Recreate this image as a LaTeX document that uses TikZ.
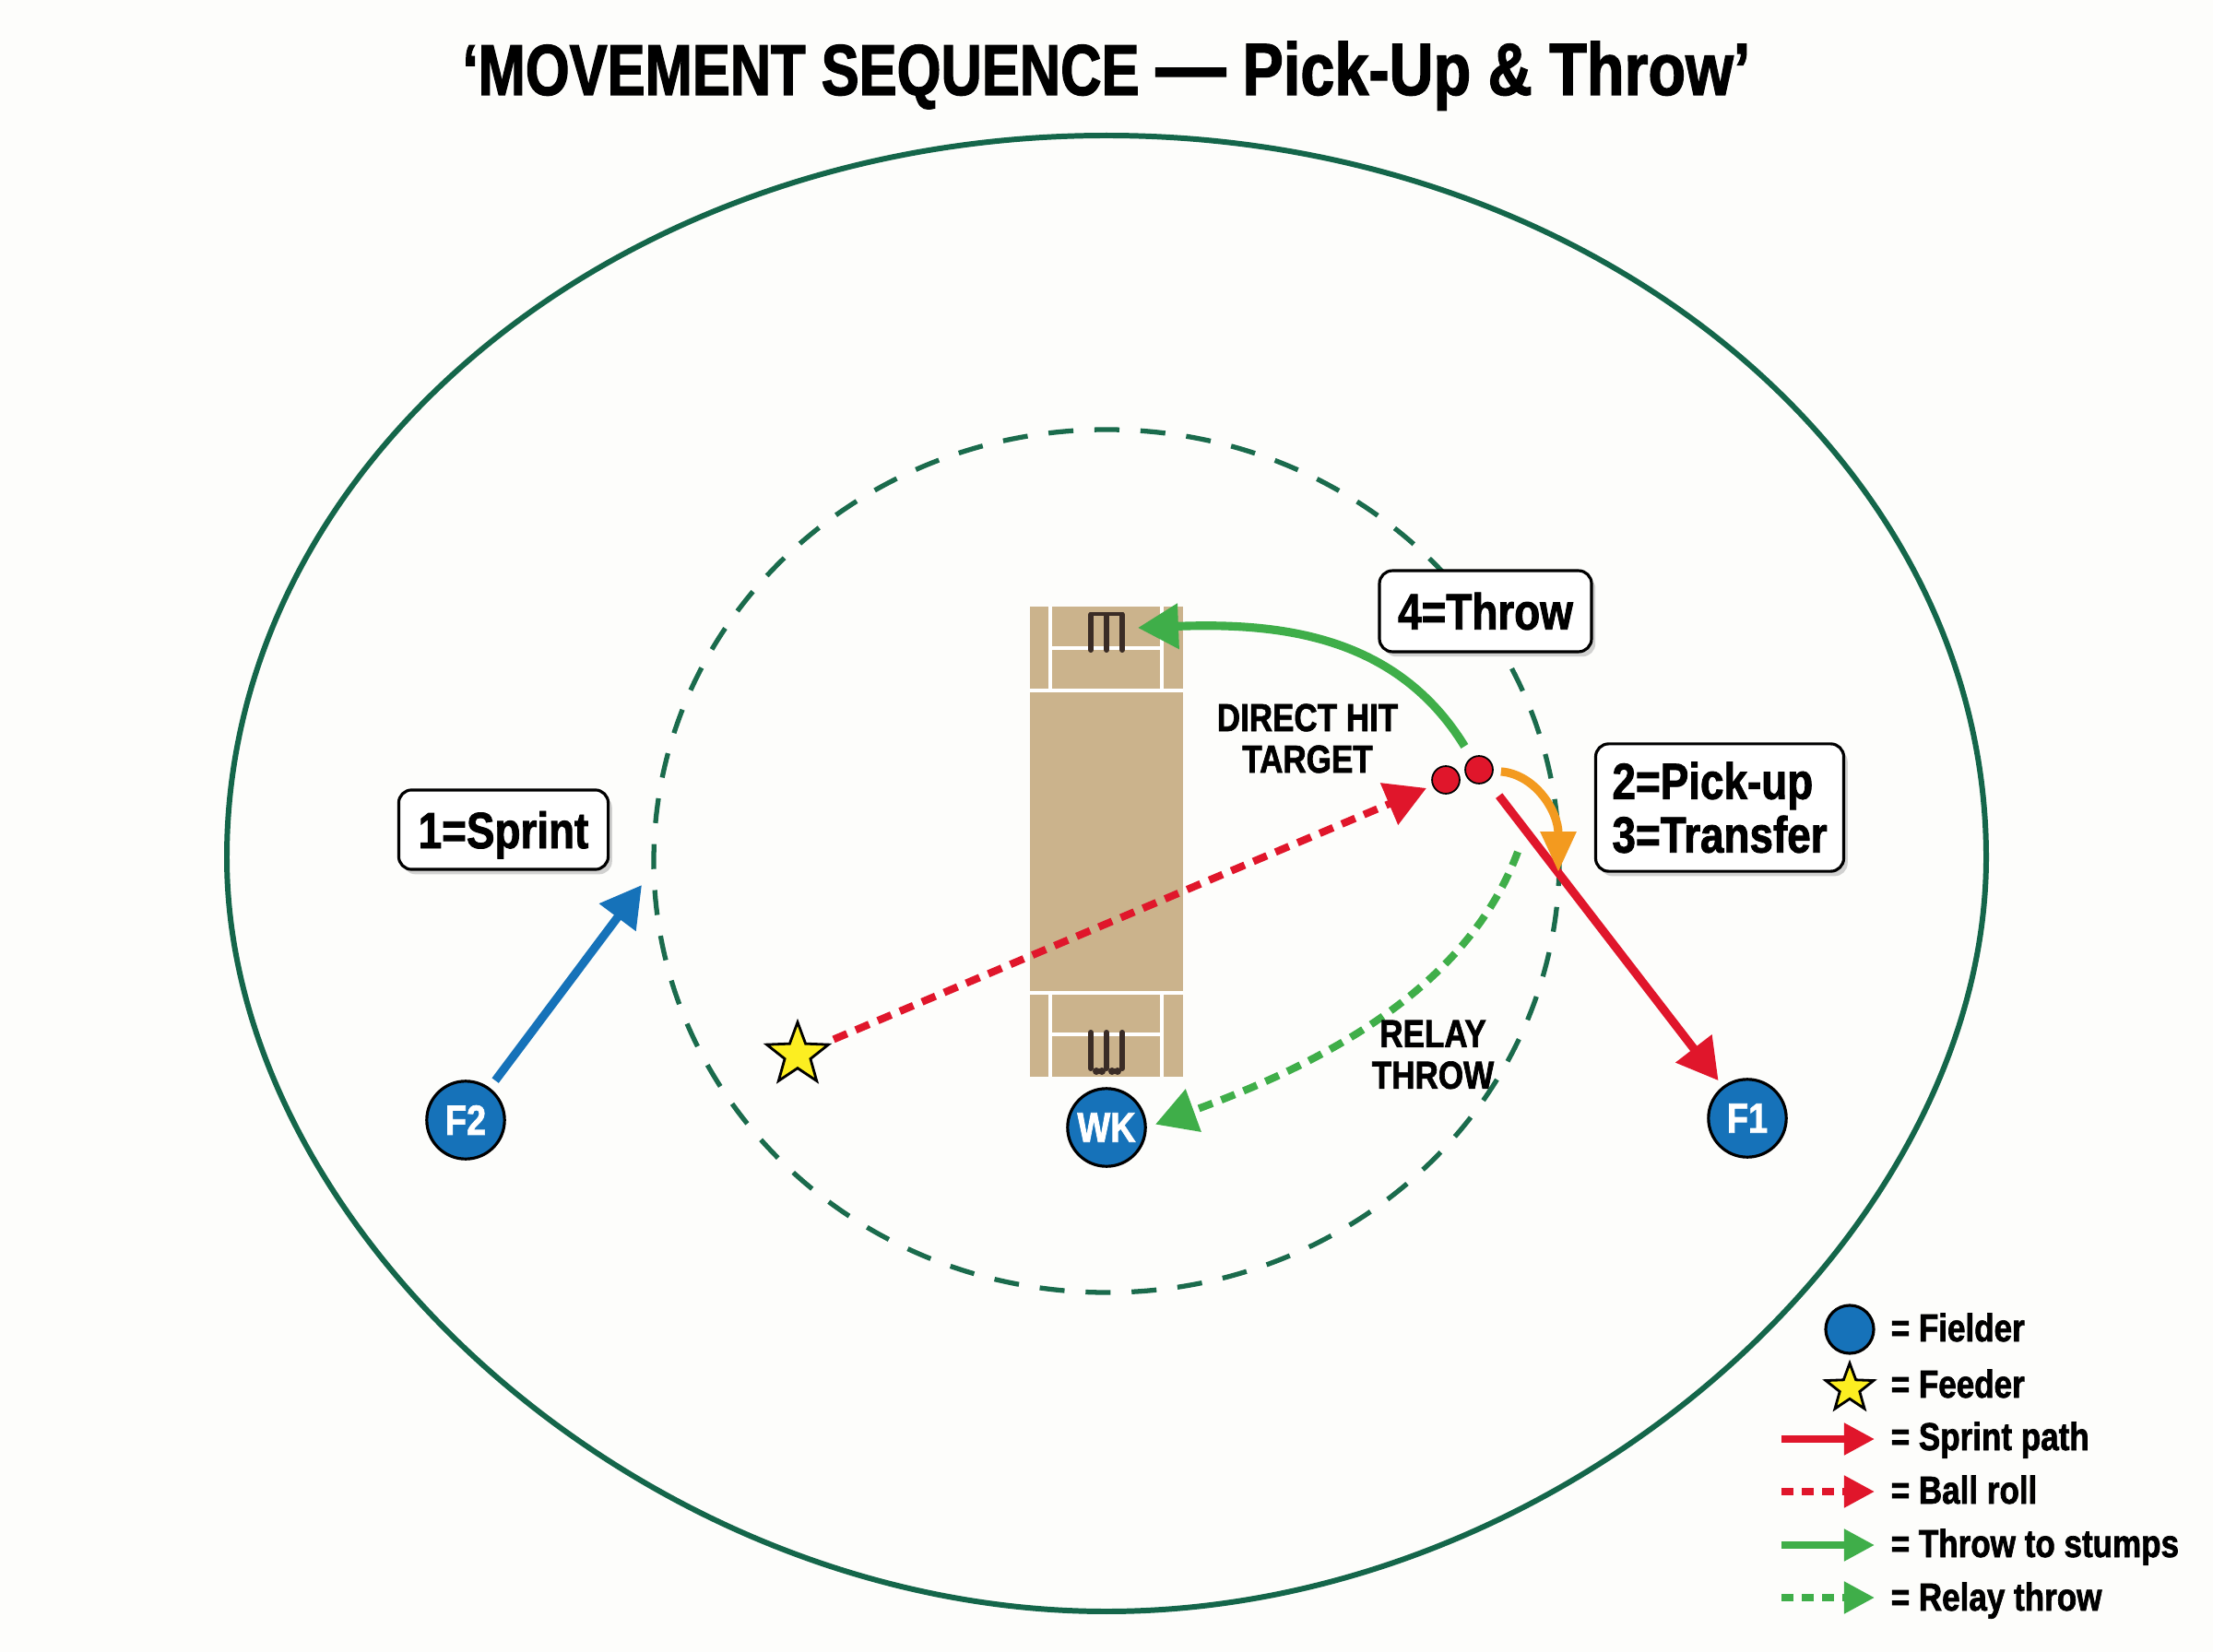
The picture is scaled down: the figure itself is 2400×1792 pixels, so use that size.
\documentclass[tikz,border=0pt]{standalone}
\usepackage{fontspec}
\setmainfont[FakeStretch=0.83,BoldFeatures={FakeBold=1.6}]{Liberation Sans}
\newfontfamily\etroit[FakeStretch=0.787,BoldFeatures={FakeBold=1.6}]{Liberation Sans}
\usetikzlibrary{arrows.meta,shapes.geometric,shadows}
\definecolor{fond}{HTML}{FDFDFB}
\definecolor{terrain}{HTML}{14664A}
\definecolor{anneau}{HTML}{1A6B4C}
\definecolor{piste}{HTML}{CBB38C}
\definecolor{piquet}{HTML}{3A2C26}
\definecolor{bleu}{HTML}{1672B9}
\definecolor{rouge}{HTML}{E0162B}
\definecolor{vert}{HTML}{3FAE49}
\definecolor{orange}{HTML}{F39A1F}
\definecolor{jaune}{HTML}{FCEE21}
\begin{document}
\begin{tikzpicture}[x=0.01cm,y=-0.01cm]
	\tikzstyle{joueur}=[circle,draw=black,line width=0.9pt,fill=bleu,text=white,minimum size=24pt,inner sep=0pt,font=\bfseries\fontsize{13}{13}\selectfont]
	\tikzstyle{balle}=[circle,draw=black,line width=0.5pt,fill=rouge,minimum size=8.5pt,inner sep=0pt]
	\tikzstyle{etoile}=[star,star points=5,star point ratio=2.4,draw=black,line width=0.8pt,fill=jaune,minimum size=20pt,inner sep=0pt]
	\tikzstyle{boite}=[draw=black,line width=0.9pt,rounded corners=4pt,fill=white,inner sep=0pt,font=\bfseries\fontsize{15.7}{16.5}\selectfont,drop shadow={shadow xshift=1.2pt,shadow yshift=-1.5pt,opacity=0.35}]
	\tikzstyle{note}=[align=center,inner sep=0pt,font=\bfseries\fontsize{12}{12.8}\selectfont]
	\tikzstyle{legende}=[anchor=base west,inner sep=0pt,font=\bfseries\fontsize{12}{12}\selectfont]
	\tikzstyle{fleche}=[-{Triangle[length=12.5pt,width=13.5pt]},line width=2.6pt]
	\tikzstyle{tirets}=[line width=2.3pt,dash pattern=on 4.5pt off 2.9pt]
	\tikzstyle{flecheleg}=[-{Triangle[length=9.4pt,width=9.4pt]},line width=2.2pt]
	\tikzstyle{tiretsleg}=[dash pattern=on 3.7pt off 2.6pt]
	\tikzstyle{craie}=[white,line width=1.1pt]
	\tikzstyle{baton}=[piquet,line width=1.7pt,line cap=round]
	% fond et terrain
	\useasboundingbox (0,0) rectangle (2400,1792);
	\fill[fond] (0,0) rectangle (2400,1792);
	\draw[terrain,line width=1.7pt] (246,930) .. controls (246,498) and (673,147) .. (1200,147) .. controls (1727,147) and (2154,498) .. (2154,930) .. controls (2154,1339) and (1696,1748) .. (1200,1748) .. controls (704,1748) and (246,1339) .. cycle;
	\draw[anneau,line width=1.5pt,dash pattern=on 7.7pt off 6.5pt] (1200,934) ellipse [x radius=491,y radius=468];
	\node[anchor=base,inner sep=0pt,font=\bfseries\fontsize{22.2}{22}\selectfont] (Titre) at (1200,103) {{\etroit ‘MOVEMENT SEQUENCE} {\fontsize{26}{22}\selectfont —} {\fontsize{22.8}{22}\selectfont Pick-Up \& Throw’}};
	% piste
	\fill[piste] (1117,658) rectangle (1283,1168);
	\draw[craie] (1117,749)--(1283,749);
	\draw[craie] (1117,1077)--(1283,1077);
	\draw[craie] (1139,658)--(1139,749);
	\draw[craie] (1260,658)--(1260,749);
	\draw[craie] (1139,1077)--(1139,1168);
	\draw[craie] (1260,1077)--(1260,1168);
	\draw[craie] (1139,703)--(1260,703);
	\draw[craie] (1139,1122)--(1260,1122);
	% piquets
	\draw[baton] (1183,705)--(1183,667);
	\draw[baton] (1200,705)--(1200,667);
	\draw[baton] (1217,705)--(1217,667);
	\draw[baton,line width=1.4pt] (1183,666)--(1217,666);
	\draw[baton] (1183,1120)--(1183,1159);
	\draw[baton] (1200,1120)--(1200,1159);
	\draw[baton] (1217,1120)--(1217,1159);
	\fill[piquet] (1189,1162) circle (4) (1195,1162) circle (4) (1206,1162) circle (4) (1212,1162) circle (4);
	% joueurs
	\node[joueur] (F2) at (505,1215) {F2};
	\node[joueur] (WK) at (1200,1223) {WK};
	\node[joueur] (F1) at (1895,1213) {F1};
	\node[etoile] (Lanceur) at (865,1144) {};
	\node[balle] (BalleA) at (1568,846) {};
	\node[balle] (BalleB) at (1604,835) {};
	\coordinate (Anneau) at (696,960);
	\coordinate (Guichet) at (1234,681);
	\coordinate (Relais) at (1646,924);
	\coordinate (Transfert) at (1690,946);
	% fleches
	\draw[fleche,bleu,shorten <=2.8pt] (F2)--(Anneau);
	\draw[fleche,rouge,tirets,shorten <=3pt,shorten >=2pt] (Lanceur)--(BalleA);
	\draw[fleche,rouge,shorten <=5.6pt,shorten >=2.2pt] (BalleB)--(F1);
	\draw[fleche,vert,shorten <=4pt] (BalleB) .. controls (1515,690) and (1390,675) .. (Guichet);
	\draw[-{Triangle[length=12.5pt,width=10.5pt]},line width=2.6pt,orange,shorten <=2.3pt] (BalleB) .. controls (1665,840) and (1690,880) .. (Transfert);
	\draw[fleche,vert,tirets,shorten >=2.8pt] (Relais) .. controls (1590,1075) and (1430,1155) .. (WK.east);
	% etiquettes
	\node[boite,minimum width=64.6pt,minimum height=24.5pt,text depth=0pt] (Sprint) at (546,900) {1=Sprint};
	\node[boite,minimum width=65.4pt,minimum height=25pt] (Lancer) at (1611,663) {4=Throw};
	\node[boite,minimum width=76.5pt,minimum height=39.3pt,align=left] (Ramassage) at (1865,876) {2=Pick-up\\3=Transfer};
	\node[note] (Direct) at (1418,801) {DIRECT HIT\\TARGET};
	\node[note] (Relay) at (1554,1144) {RELAY\\THROW};
	% legende
	\node[circle,draw=black,line width=0.9pt,fill=bleu,minimum size=14.8pt,inner sep=0pt] (LegFielder) at (2006,1442) {};
	\node[star,star points=5,star point ratio=2.4,draw=black,line width=0.8pt,fill=jaune,minimum size=15.5pt,inner sep=0pt] (LegFeeder) at (2006,1506) {};
	\node[legende] (TxtFielder) at (2050,1455) {= Fielder};
	\node[legende] (TxtFeeder) at (2050,1516) {= Feeder};
	\node[legende] (TxtSprint) at (2050,1573) {= Sprint path};
	\node[legende] (TxtBall) at (2050,1631) {= Ball roll};
	\node[legende] (TxtThrow) at (2050,1689) {= Throw to stumps};
	\node[legende] (TxtRelay) at (2050,1747) {= Relay throw};
	\coordinate (SprintA) at (1932,1561);
	\coordinate (SprintB) at (2033,1561);
	\coordinate (BallA) at (1932,1618);
	\coordinate (BallB) at (2033,1618);
	\coordinate (ThrowA) at (1932,1676);
	\coordinate (ThrowB) at (2033,1676);
	\coordinate (RelayA) at (1932,1733);
	\coordinate (RelayB) at (2033,1733);
	\draw[flecheleg,rouge] (SprintA)--(SprintB);
	\draw[flecheleg,rouge,tiretsleg] (BallA)--(BallB);
	\draw[flecheleg,vert] (ThrowA)--(ThrowB);
	\draw[flecheleg,vert,tiretsleg] (RelayA)--(RelayB);
\end{tikzpicture}
\end{document}
